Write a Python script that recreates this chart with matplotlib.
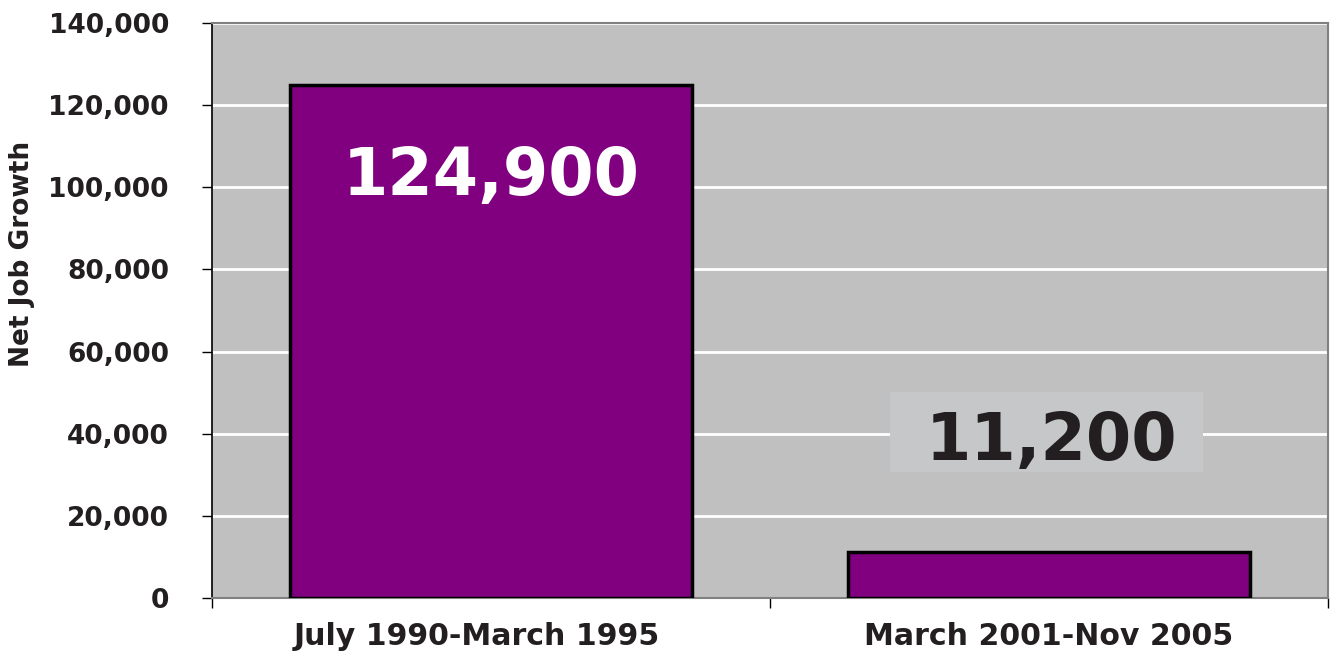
import matplotlib.pyplot as plt
from matplotlib.patches import Rectangle
from matplotlib.transforms import ScaledTranslation
import numpy as np

plt.rcParams['font.family'] = ['DejaVu Sans']
plt.rcParams['font.weight'] = 'bold'

periods = ['July 1990-March 1995', 'March 2001-Nov 2005']
job_growth = [124900, 11200]
value_labels = ['124,900', '11,200']
y_ticks = [0, 20000, 40000, 60000, 80000, 100000, 120000, 140000]

txt = '#231F20'

fig = plt.figure(figsize=(13.3, 6.55), dpi=100)
ax = fig.add_axes([212 / 1330, 57 / 655, 1116 / 1330, 575 / 655])
ax.set_facecolor('#C0C0C0')

x = np.arange(len(periods))
ax.bar(x, job_growth, width=0.72, color='#800080', edgecolor='black', linewidth=2.5, zorder=3)

ax.set_xlim(-0.5, 1.5)
ax.set_ylim(0, 140000)
ax.set_yticks(y_ticks)
ax.set_yticklabels([f'{v:,}' for v in y_ticks], fontsize=19, fontweight='bold', color=txt)
ax.yaxis.grid(True, color='white', linewidth=2, zorder=1)
ax.tick_params(axis='y', length=7, width=1, color='black', pad=24)

ax.set_xticks(x)
ax.set_xticklabels(periods, fontsize=21.6, fontweight='bold', color=txt)
ax.set_xticks([-0.5, 0.5, 1.5], minor=True)
ax.tick_params(axis='x', which='major', length=0, pad=17)
ax.tick_params(axis='x', which='minor', length=7, width=1, color='black')
# first label sits a little left of its bar in the original
lbl = ax.get_xticklabels()[0]
lbl.set_transform(lbl.get_transform() + ScaledTranslation(-0.14, 0, fig.dpi_scale_trans))

for side in ['top', 'right', 'bottom']:
    ax.spines[side].set_color('#808080')
    ax.spines[side].set_linewidth(1.5)
ax.spines['left'].set_color('black')
ax.spines['left'].set_linewidth(1.2)

# value labels
ax.text(x[0], 102500, value_labels[0], ha='center', va='center', fontsize=47,
        fontweight='bold', color='white', zorder=5)
ax.add_patch(Rectangle((0.6075, 0.2191), 0.2805, 0.1391, transform=ax.transAxes,
                       facecolor='#C6C7C9', edgecolor='none', zorder=4))
ax.text(x[1] + 0.005, 38000, value_labels[1], ha='center', va='center', fontsize=47,
        fontweight='bold', color=txt, zorder=5)

fig.text(22 / 1330, 1 - 254 / 655, 'Net Job Growth', rotation=90, ha='center', va='center',
         fontsize=19, fontweight='bold', color=txt)

fig.savefig('out.png', dpi=100)
